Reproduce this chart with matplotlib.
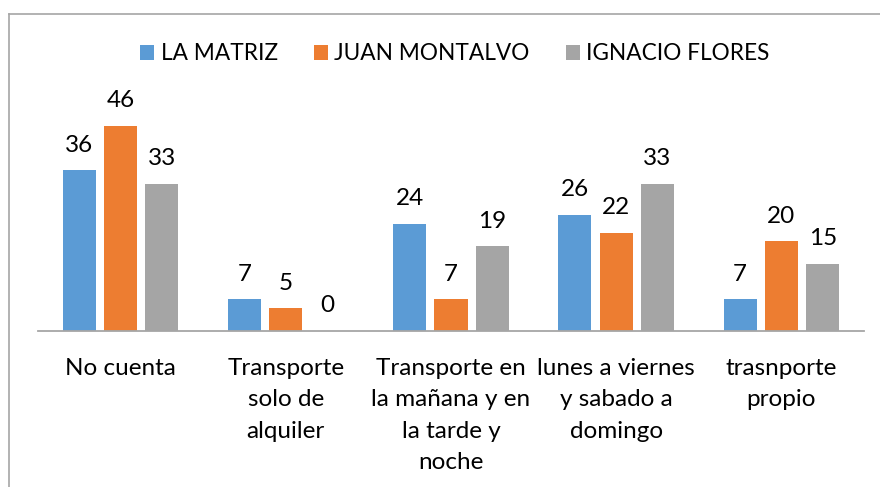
import matplotlib
matplotlib.use('Agg')
import matplotlib.pyplot as plt
from matplotlib.lines import Line2D
import numpy as np

plt.rcParams['font.family'] = ['Lato', 'DejaVu Sans']

categories = [
    "No cuenta",
    "Transporte\nsolo de\nalquiler",
    "Transporte en\nla mañana y en\nla tarde y\nnoche",
    "lunes a viernes\ny sabado a\ndomingo",
    "trasnporte\npropio",
]
series_names = ["LA MATRIZ", "JUAN MONTALVO", "IGNACIO FLORES"]
la_matriz = [36, 7, 24, 26, 7]
juan_montalvo = [46, 5, 7, 22, 20]
ignacio_flores = [33, 0, 19, 33, 15]

colors = ['#5B9BD5', '#ED7D31', '#A5A5A5']
W, H = 880, 487
FS = 17.5

fig = plt.figure(figsize=(W / 100, H / 100), dpi=100)
ax = fig.add_axes([38 / W, 1 - 330.5 / H, 826 / W, 222.5 / H])

x = np.arange(len(categories))
width = 0.2
step = 0.25
for i, (name, vals) in enumerate(zip(series_names,
                                     [la_matriz, juan_montalvo, ignacio_flores])):
    xs = x + (i - 1) * step
    ax.bar(xs, vals, width=width, color=colors[i], label=name, zorder=2)
    for xi, v in zip(xs, vals):
        ax.annotate(str(v), (xi, v), xytext=(0, 13.2), textcoords='offset points',
                    ha='center', va='baseline', fontsize=FS, color='black')

ax.set_xlim(-0.5, len(categories) - 0.5)
ax.set_ylim(0, 50)
ax.set_yticks([])
ax.set_xticks(x)
ax.set_xticklabels(categories, fontsize=FS, linespacing=1.6)
ax.tick_params(axis='x', length=0, pad=20)
for s in ['top', 'left', 'right']:
    ax.spines[s].set_visible(False)
ax.spines['bottom'].set_color('#A6A6A6')
ax.spines['bottom'].set_linewidth(1.3)

fig.legend(loc='center', bbox_to_anchor=(455 / W, 1 - 54 / H), ncol=3,
           frameon=False, fontsize=16.3, handlelength=0.6, handleheight=0.6,
           handletextpad=0.3, columnspacing=1.6)

# chart frame (only left and top edges visible in the crop)
fig.add_artist(Line2D([9 / W, 9 / W], [0, 1 - 14 / H], color='#A6A6A6', lw=1.2))
fig.add_artist(Line2D([9 / W, 1], [1 - 14 / H, 1 - 14 / H], color='#A6A6A6', lw=1.2))

fig.savefig('out.png', dpi=100)
